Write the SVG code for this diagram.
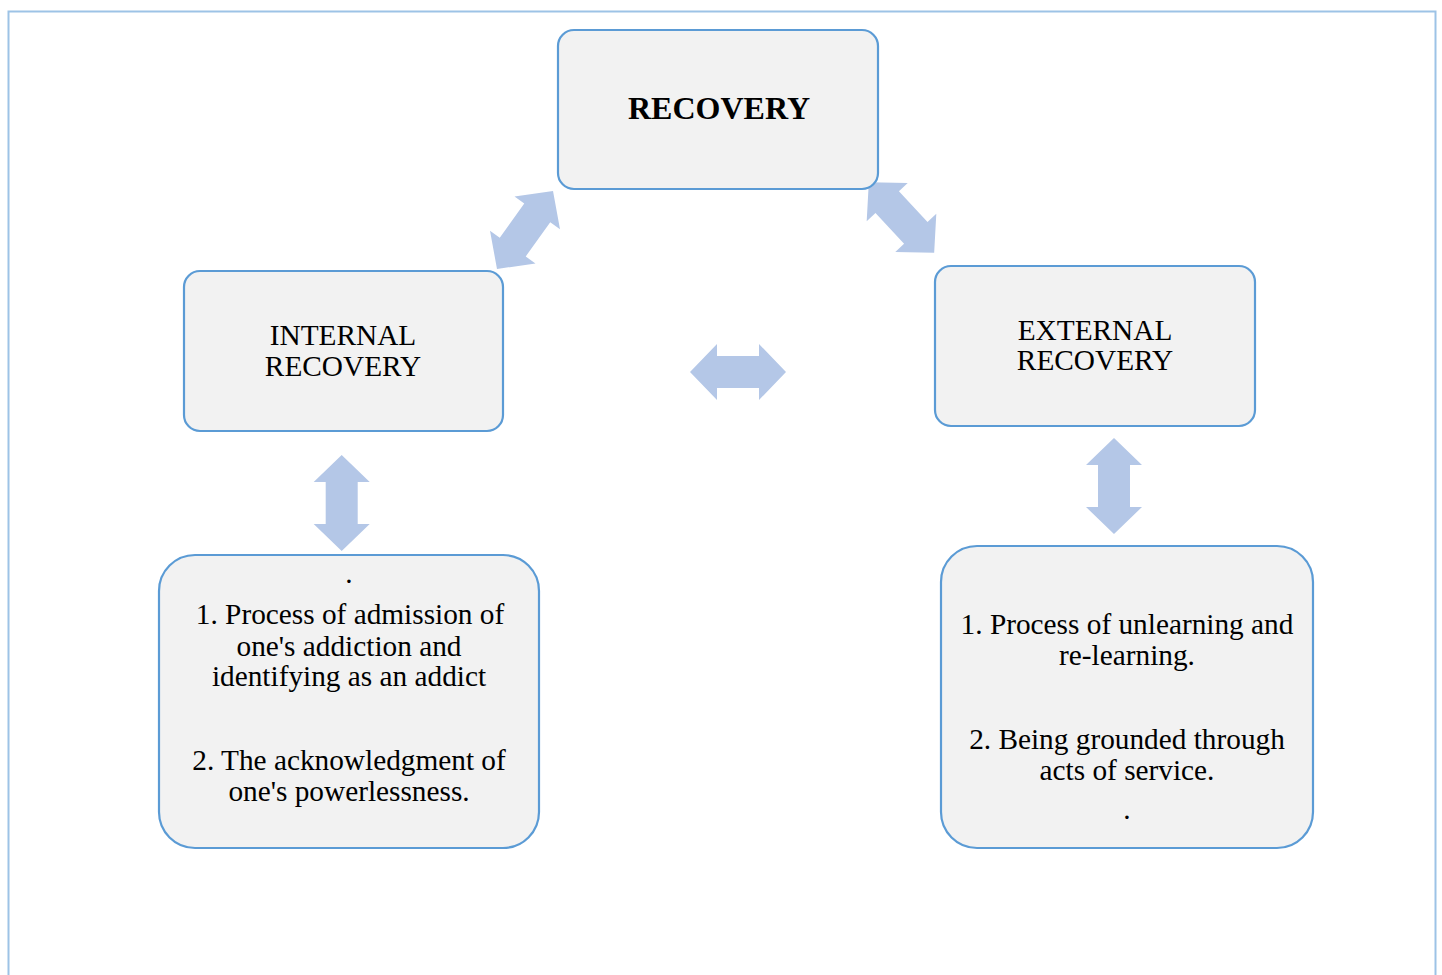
<svg xmlns="http://www.w3.org/2000/svg" width="1442" height="975" viewBox="0 0 1442 975">
<style>
.box{fill:#f2f2f2;stroke:#5b9bd5;stroke-width:2.2}
.t{font-family:"Liberation Serif","Times New Roman",serif;font-size:29.3px;fill:#000;text-anchor:middle}
.b{font-weight:bold;font-size:32px}
.arr{fill:#b4c7e7}
</style>
<defs>
<path id="dbl" d="M-48,0 L-21,-28 L-21,-16 L21,-16 L21,-28 L48,0 L21,28 L21,16 L-21,16 L-21,28 Z"/>
</defs>
<rect x="8.5" y="11.5" width="1427" height="980" fill="#fff" stroke="#9dc3e6" stroke-width="2"/>
<g id="connectors" class="arr">
<use href="#dbl" transform="translate(525,230) rotate(-54.3)"/>
<use href="#dbl" transform="translate(901.5,217.5) rotate(47.1)"/>
<use href="#dbl" transform="translate(738,372)"/>
<use href="#dbl" transform="translate(341.7,503) rotate(90)"/>
<use href="#dbl" transform="translate(1114,486) rotate(90)"/>
</g>
<g id="recovery">
<rect class="box" x="558" y="30" width="320" height="159" rx="16"/>
<text class="t b" x="719" y="119">RECOVERY</text>
</g>
<g id="internal">
<rect class="box" x="184" y="271" width="319" height="160" rx="16"/>
<text class="t" x="343" y="345">INTERNAL</text>
<text class="t" x="343" y="376">RECOVERY</text>
</g>
<g id="external">
<rect class="box" x="935" y="266" width="320" height="160" rx="16"/>
<text class="t" x="1095" y="340">EXTERNAL</text>
<text class="t" x="1095" y="370">RECOVERY</text>
</g>
<g id="internal-detail">
<rect class="box" x="159" y="555" width="380" height="293" rx="36"/>
<text class="t" x="349" y="583">.</text>
<text class="t" x="350" y="624">1. Process of admission of</text>
<text class="t" x="349" y="656">one's addiction and</text>
<text class="t" x="349" y="686">identifying as an addict</text>
<text class="t" x="349" y="770">2. The acknowledgment of</text>
<text class="t" x="349" y="801">one's powerlessness.</text>
</g>
<g id="external-detail">
<rect class="box" x="941" y="546" width="372" height="302" rx="36"/>
<text class="t" x="1127" y="634">1. Process of unlearning and</text>
<text class="t" x="1127" y="665">re-learning.</text>
<text class="t" x="1127" y="749">2. Being grounded through</text>
<text class="t" x="1127" y="780">acts of service.</text>
<text class="t" x="1127" y="819">.</text>
</g>
</svg>
